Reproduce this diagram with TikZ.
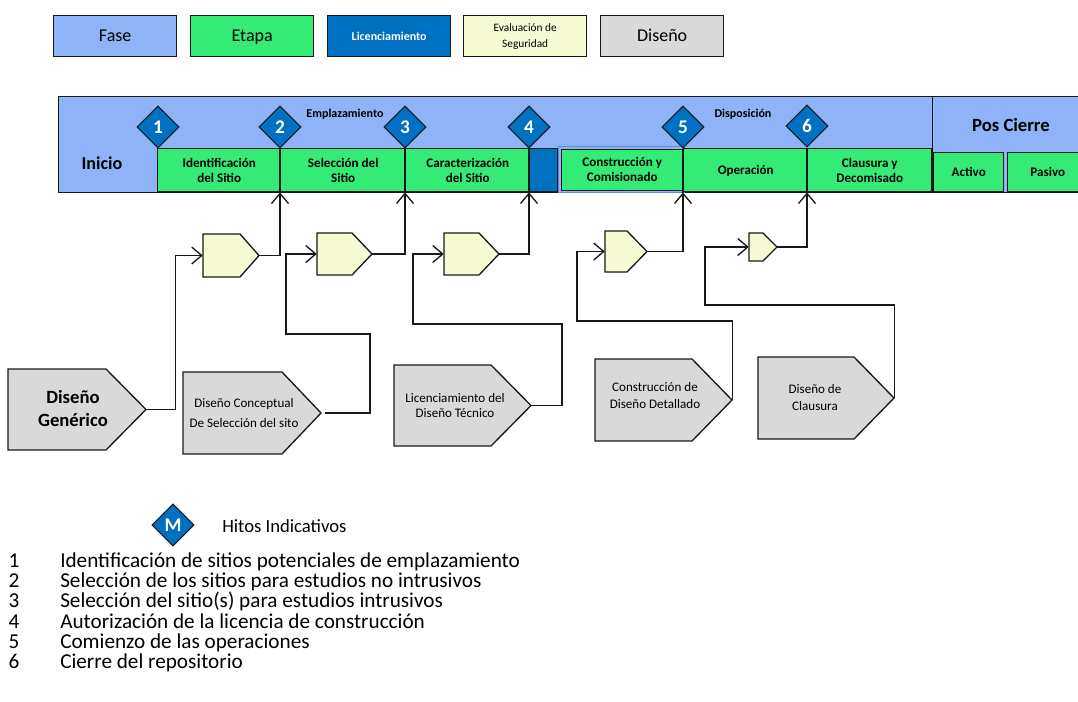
\documentclass[tikz,border=0pt]{standalone}
\usepackage{fontspec}
\setmainfont{Carlito}
\usetikzlibrary{arrows.meta,shapes.geometric}
\definecolor{fase}{RGB}{142,180,247}
\definecolor{etapa}{RGB}{51,235,117}
\definecolor{lic}{RGB}{0,112,192}
\definecolor{evalc}{RGB}{247,251,211}
\definecolor{dis}{RGB}{217,217,217}
\definecolor{edge}{RGB}{25,25,25}
\definecolor{outl}{RGB}{90,140,210}
\newcommand{\pentshape}[7]{%
  \path[#7] (#2,#3) -- (#4-#6,#3) -- (#4,{(#3+#5)/2}) -- (#4-#6,#5) -- (#2,#5) -- cycle;
  \node[frame,sz={#4-#2}{#5-#3}] (#1) at ({(#2+#4)/2},{(#3+#5)/2}) {};
}
\begin{document}
\begin{tikzpicture}[x=0.75pt,y=-0.75pt,
  sz/.style 2 args={minimum width={(#1)*0.75pt},minimum height={(#2)*0.75pt}},
  cell/.style={draw=edge,line width=1.1pt,inner sep=0pt,anchor=north west,align=center},
  legbox/.style={cell,line width=1pt,sz={123}{41}},
  oneline/.style={text height=#1,text depth=0pt},
  bigtext/.style={oneline=8.7pt,font=\fontsize{13.5}{16}\selectfont},
  stagebox/.style={cell,fill=etapa,font=\bfseries\fontsize{9.8}{11.5}\selectfont},
  ms/.style={diamond,draw=edge,line width=0.8pt,fill=lic,text=white,font=\bfseries\fontsize{14.5}{14.5}\selectfont,inner sep=0pt,sz={42}{42},oneline=9.2pt},
  msline/.style={draw=edge,line width=1.6pt},
  frame/.style={inner sep=0pt,align=center},
  conn/.style={draw=edge,line width=1pt,-{Straight Barb[length=7.5pt,width=12.75pt]}},
  evalp/.style={fill=evalc,draw=edge,line width=1pt},
  disp/.style={fill=dis,draw=edge,line width=1pt},
  dtext/.style={align=center,inner sep=0pt,font=\fontsize{9.8}{12.75}\selectfont},
  phase/.style={font=\bfseries\fontsize{9}{11}\selectfont},
  listtext/.style={anchor=base west,inner sep=0pt,font=\fontsize{15.9}{18}\selectfont},
  listnum/.style={anchor=base,inner sep=0pt,font=\fontsize{15.9}{18}\selectfont},
]
\useasboundingbox (0,0) rectangle (1078,701);

% legend
\node[legbox,fill=fase,bigtext] (lfase) at (53,15) {Fase};
\node[legbox,fill=etapa,bigtext] (letapa) at (190,15) {Etapa};
\node[legbox,fill=lic,text=white,oneline=5.8pt,font=\bfseries\fontsize{9}{11}\selectfont] (llic) at (327,15) {Licenciamiento};
\node[legbox,fill=evalc,font=\fontsize{8.5}{12}\selectfont] (leval) at (463,15) {Evaluación de\\Seguridad};
\node[legbox,fill=dis,bigtext] (ldis) at (600,15) {Diseño};

% phase bar
\node[cell,fill=fase,sz={874}{96}] (bar) at (58,96) {};
\node[cell,fill=fase,sz={160}{96}] (pos) at (932,96) {};
\node[oneline=9pt,font=\bfseries\fontsize{14}{16}\selectfont] (poslab) at (1011,125) {Pos Cierre};
\node[oneline=8.75pt,font=\bfseries\fontsize{13.6}{16}\selectfont] (inicio) at (102,164) {Inicio};
\node[phase] (empl) at (345,114) {Emplazamiento};
\node[phase] (dispo) at (743,114) {Disposición};

% stages
\node[stagebox,sz={123}{43}] (s1) at (157,148) {Identificación\\del Sitio};
\node[stagebox,sz={125}{43}] (s2) at (280,148) {Selección del\\Sitio};
\node[stagebox,sz={124}{43}] (s3) at (405,148) {Caracterización\\del Sitio};
\node[cell,fill=lic,sz={28}{43}] (slic) at (529,148) {};
\draw[outl,line width=0.8pt] (558.5,146.5) rectangle (684,192.5);
\node[stagebox,sz={121}{41}] (s4) at (561,148.5) {Construcción y\\Comisionado};
\node[stagebox,oneline=6.3pt,sz={124}{43}] (s5) at (683,148) {Operación};
\node[stagebox,oneline=6.3pt,sz={70}{39}] (s7) at (933,152) {Activo};
\node[stagebox,oneline=6.3pt,sz={80}{39}] (s8) at (1007,152) {Pasivo};
\node[stagebox,sz={124}{43}] (s6) at (807,148) {Clausura y\\Decomisado};

% milestones
\node[ms] (m1) at (158,127) {1};
\node[ms] (m2) at (280,127) {2};
\node[ms] (m3) at (405,127) {3};
\node[ms] (m4) at (529,127) {4};
\node[ms] (m5) at (683,127) {5};
\node[ms] (m6) at (807,126) {6};
\foreach \m in {m2,m3,m4,m5,m6}{\draw[msline] (\m.south) -- (\m.south |- bar.south);}

% evaluation pentagons
\pentshape{e1}{203}{234}{259}{277}{19}{evalp}
\pentshape{e2}{317}{233}{372}{275}{20}{evalp}
\pentshape{e3}{444}{233}{499}{275}{20}{evalp}
\pentshape{e4}{605}{231}{647}{272}{20}{evalp}
\pentshape{e5}{749}{233}{777}{261}{14}{evalp}

% design pentagons
\pentshape{d1}{8}{369}{146}{450}{40}{disp}
\pentshape{d2}{183}{372}{321}{454}{39}{disp}
\pentshape{d3}{394}{365}{531}{446}{40}{disp}
\pentshape{d4}{595}{359}{732}{441}{40}{disp}
\pentshape{d5}{758}{357}{894}{439}{40}{disp}

\node[align=center,inner sep=0pt,font=\bfseries\fontsize{14}{17.25}\selectfont] (d1t) at (73,408.5) {Diseño\\Genérico};
\node[align=center,inner sep=0pt,font=\fontsize{9.8}{15}\selectfont] (d2t) at (244,413) {Diseño Conceptual\\De Selección del sito};
\node[dtext,font=\fontsize{9.8}{11.25}\selectfont] (d3t) at (455,405.5) {Licenciamiento del\\Diseño Técnico};
\node[dtext] (d4t) at (655,395.5) {Construcción de\\Diseño Detallado};
\node[dtext] (d5t) at (815,397.5) {Diseño de\\Clausura};

% connectors
\draw[conn] (d1.east) -- ++(29,0) |- (e1.west);
\draw[conn] (e1.east) -| (s2.south west);
\draw[conn] ([xshift=3pt]d2.east) -| (370,334) -- (286,334) |- (e2.west);
\draw[conn] (e2.east) -| (s3.south west);
\draw[conn] (d3.east) -| (562,324) -- (413,324) |- (e3.west);
\draw[conn] (e3.east) -| (slic.south west);
\draw[conn] (d4.east) |- (577,321) |- (e4.west);
\draw[conn] (e4.east) -| (s5.south west);
\draw[conn] (d5.east) |- (705,305) |- (e5.west);
\draw[conn] (e5.east) -| (s6.south west);

% milestone legend
\node[ms] (mleg) at (173,525) {M};
\node[anchor=west,inner sep=0pt,font=\fontsize{14}{16}\selectfont] (hitos) at (222,526) {Hitos Indicativos};

% list
\node[listnum] (n1) at (14,567.5) {1};
\node[listtext] (t1) at (60,567.5) {Identificación de sitios potenciales de emplazamiento};
\node[listnum] (n2) at (14,587.7) {2};
\node[listtext] (t2) at (60,587.7) {Selección de los sitios para estudios no intrusivos};
\node[listnum] (n3) at (14,607.9) {3};
\node[listtext] (t3) at (60,607.9) {Selección del sitio(s) para estudios intrusivos};
\node[listnum] (n4) at (14,628.1) {4};
\node[listtext] (t4) at (60,628.1) {Autorización de la licencia de construcción};
\node[listnum] (n5) at (14,648.3) {5};
\node[listtext] (t5) at (60,648.3) {Comienzo de las operaciones};
\node[listnum] (n6) at (14,668.5) {6};
\node[listtext] (t6) at (60,668.5) {Cierre del repositorio};
\end{tikzpicture}
\end{document}
